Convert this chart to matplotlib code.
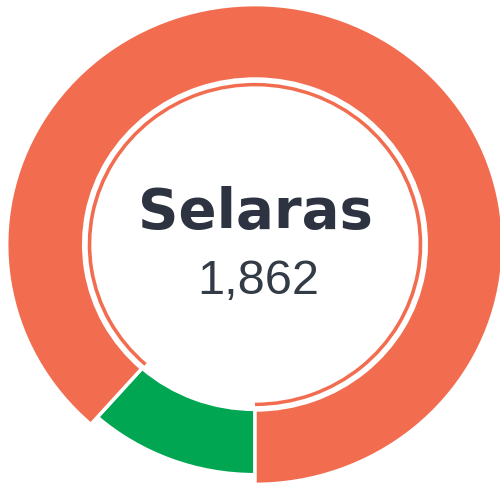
import matplotlib.pyplot as plt

# donut data (hovered segment: Selaras)
labels = ["Tidak Selaras", "Selaras"]
values = [242, 1862]
colors = ["#00A651", "#F26D50"]
center_label = "Selaras"
center_value = "1,862"

fig = plt.figure(figsize=(5, 4.83), dpi=100)
ax = fig.add_axes([0, 0, 1, 1])

cx, cy = 255, 246.9
edge = dict(edgecolor="white", linewidth=2.5)

# green (normal size)
w_green, _ = ax.pie(values, colors=colors, radius=238.3, center=(cx, cy),
                    startangle=270, counterclock=False,
                    wedgeprops=dict(width=67.6, **edge))
w_green[1].set_visible(False)

# orange, drawn enlarged as hovered
w_orange, _ = ax.pie(values, colors=colors, radius=248.3, center=(cx, cy),
                     startangle=270, counterclock=False,
                     wedgeprops=dict(width=77, **edge))
w_orange[0].set_visible(False)

# thin inner hover ring
w_ring, _ = ax.pie(values, colors=colors, radius=167.3, center=(cx, cy),
                   startangle=270, counterclock=False,
                   wedgeprops=dict(width=3.6, edgecolor="none"))
w_ring[0].set_visible(False)

ax.text(cx, 264, center_label, ha="center", va="baseline",
        fontsize=40.5, fontweight="bold", family="DejaVu Sans", color="#2D3340")
ax.text(cx + 3, 195.7, center_value, ha="center", va="baseline",
        fontsize=35, family="Liberation Sans", color="#333B47")

ax.set_aspect("auto")
ax.set_xlim(0, 500)
ax.set_ylim(0, 500)
ax.axis("off")

fig.savefig("out.png", dpi=100, facecolor="white")
